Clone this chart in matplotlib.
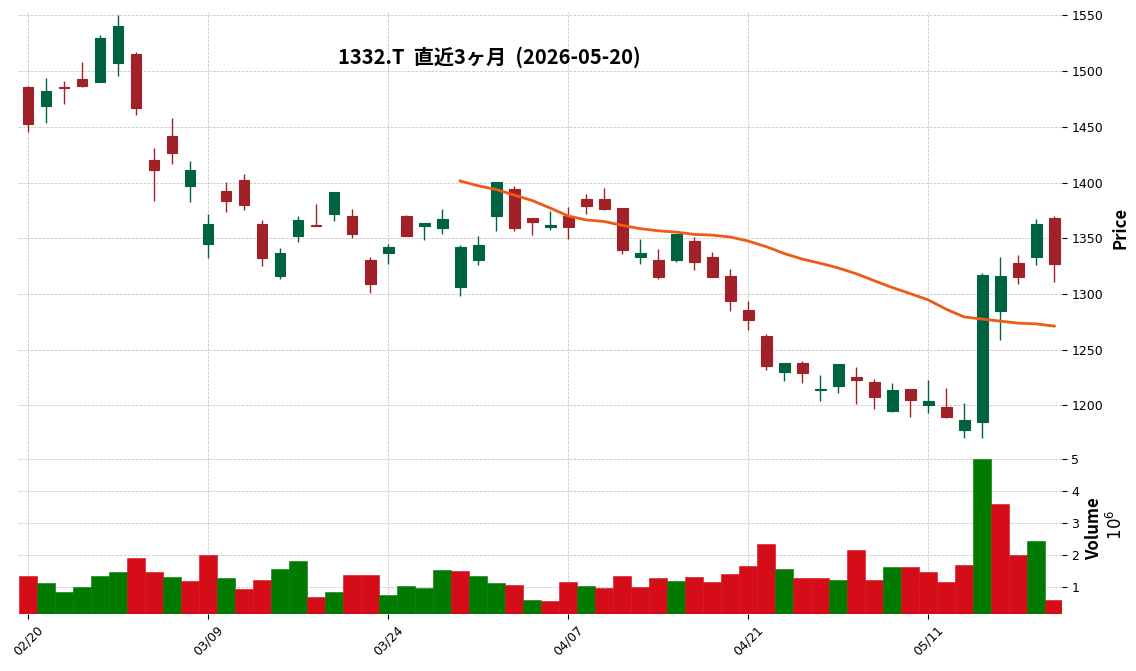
import matplotlib.pyplot as plt
import numpy as np
import pandas as pd

# trading days (TSE holidays removed)
holidays = ["2026-02-23", "2026-03-20", "2026-04-29", "2026-05-04", "2026-05-05", "2026-05-06"]
dates = pd.bdate_range("2026-02-20", "2026-05-20")
dates = dates[~dates.isin(pd.to_datetime(holidays))]

opens = [1485.7, 1468.9, 1485.6, 1492.8, 1490.4, 1507.5, 1515.6, 1420.1, 1441.7, 1397.1,
         1345.1, 1392.2, 1402.1, 1362.7, 1316.1, 1352.2, 1362.0, 1372.2, 1369.9, 1330.4,
         1337.0, 1369.9, 1361.2, 1359.4, 1306.6, 1330.7, 1370.1, 1394.0, 1368.1, 1360.0,
         1370.4, 1385.1, 1385.1, 1377.0, 1333.4, 1330.4, 1330.7, 1347.5, 1333.1, 1316.1,
         1286.0, 1262.8, 1230.1, 1237.8, 1214.0, 1217.6, 1225.9, 1220.8, 1195.2, 1215.0,
         1200.1, 1198.4, 1178.4, 1184.9, 1285.2, 1327.9, 1333.6, 1368.1]
highs = [1486.5, 1494.3, 1491.3, 1508.4, 1532.9, 1550.0, 1516.8, 1431.5, 1458.4, 1419.3,
         1372.2, 1400.9, 1408.1, 1366.9, 1340.9, 1369.6, 1381.2, 1391.5, 1376.7, 1333.4,
         1344.8, 1370.7, 1363.6, 1376.7, 1343.6, 1352.5, 1400.3, 1396.7, 1368.1, 1374.9,
         1378.2, 1389.6, 1395.5, 1377.0, 1349.0, 1340.6, 1354.0, 1351.3, 1337.3, 1322.4,
         1294.0, 1264.3, 1237.8, 1239.6, 1227.4, 1237.0, 1234.8, 1223.8, 1220.2, 1215.0,
         1222.5, 1215.7, 1202.5, 1318.7, 1333.0, 1334.8, 1367.0, 1370.0]
lows = [1445.6, 1453.6, 1470.1, 1486.0, 1490.0, 1496.1, 1461.1, 1383.7, 1416.9, 1382.2,
        1332.0, 1373.4, 1375.8, 1325.1, 1313.1, 1346.3, 1361.0, 1365.4, 1350.7, 1300.6,
        1326.6, 1352.0, 1348.1, 1354.3, 1297.9, 1325.7, 1357.0, 1356.4, 1353.4, 1357.9,
        1349.0, 1372.2, 1375.5, 1335.5, 1326.6, 1313.1, 1328.4, 1321.2, 1315.0, 1284.5,
        1267.3, 1231.5, 1222.3, 1220.5, 1203.9, 1211.6, 1200.9, 1196.7, 1193.8, 1189.6,
        1193.3, 1189.0, 1170.9, 1170.9, 1259.0, 1309.1, 1326.1, 1311.2]
closes = [1452.5, 1482.1, 1485.3, 1486.6, 1529.6, 1540.4, 1466.8, 1411.2, 1426.4, 1411.2,
          1362.7, 1383.6, 1380.0, 1332.5, 1336.7, 1366.3, 1361.5, 1391.3, 1354.0, 1309.3,
          1341.8, 1352.2, 1363.6, 1367.2, 1342.1, 1343.9, 1400.3, 1359.4, 1364.8, 1361.8,
          1360.3, 1379.1, 1376.4, 1339.7, 1336.7, 1315.2, 1354.0, 1329.0, 1315.5, 1294.0,
          1276.5, 1235.4, 1237.8, 1229.2, 1214.5, 1236.9, 1222.9, 1207.7, 1213.7, 1205.0,
          1204.2, 1189.4, 1186.7, 1317.0, 1316.0, 1315.0, 1362.8, 1326.7]
# volume in millions of shares
volumes = [1.35, 1.13, 0.86, 1.01, 1.35, 1.48, 1.91, 1.48, 1.32, 1.20,
           2.00, 1.29, 0.95, 1.23, 1.57, 1.82, 0.70, 0.86, 1.38, 1.38,
           0.76, 1.04, 0.98, 1.54, 1.51, 1.35, 1.13, 1.07, 0.61, 0.58,
           1.17, 1.04, 0.98, 1.35, 1.01, 1.29, 1.20, 1.32, 1.17, 1.41,
           1.66, 2.34, 1.57, 1.29, 1.29, 1.23, 2.16, 1.23, 1.63, 1.63,
           1.48, 1.17, 1.69, 5.00, 3.61, 2.00, 2.44, 0.61]

title = "1332.T  直近3ヶ月  (2026-05-20)"
tick_idx = [0, 10, 20, 30, 40, 50]

df = pd.DataFrame({"Open": opens, "High": highs, "Low": lows, "Close": closes,
                   "Volume": volumes}, index=dates)
df["MA25"] = df["Close"].rolling(25).mean()

UP, DOWN = "#006340", "#a02128"
VUP, VDOWN = "#007a00", "#d50d18"
GRID = dict(color="#c4c4c4", linestyle="--", linewidth=0.55)

x = np.arange(len(df))
o, h, l, c = df["Open"].values, df["High"].values, df["Low"].values, df["Close"].values
cols = [UP if cc >= oo else DOWN for oo, cc in zip(o, c)]
prev = np.r_[o[0], c[:-1]]
vcols = [VUP if cc >= pp else VDOWN for pp, cc in zip(prev, c)]

fig = plt.figure(figsize=(11.36, 6.71), dpi=100)
ax = fig.add_axes([0.0158, 0.3398, 0.9192, 0.6422])
axv = fig.add_axes([0.0158, 0.085, 0.9192, 0.2548], sharex=ax)

# candles
ax.vlines(x, l, h, colors=cols, linewidth=1.0, zorder=2)
ax.bar(x, np.abs(c - o), bottom=np.minimum(o, c), width=0.6, color=cols,
       edgecolor=cols, linewidth=0.8, zorder=3)
ax.plot(x, df["MA25"].values, color="#ee5a18", linewidth=2.0, zorder=4)

# volume
axv.bar(x, df["Volume"].values, width=0.98, color=vcols, edgecolor=vcols,
        linewidth=0.4, zorder=3)

rng = max(h) - min(l)
ax.set_ylim(min(l) - 0.012 * rng, max(h) + 0.008 * rng)
ax.set_yticks(np.arange(1200, 1551, 50))
axv.set_ylim(0.3 * min(volumes), 1.1 * max(volumes))
axv.set_yticks([1, 2, 3, 4, 5])
ax.set_xlim(-0.56, len(df) - 0.56)

for a in (ax, axv):
    for s in a.spines.values():
        s.set_visible(False)
    a.yaxis.tick_right()
    a.yaxis.set_label_position("right")
    a.grid(True, **GRID)
    a.set_axisbelow(True)
    a.tick_params(axis="y", labelsize=9, length=3.5, pad=3)

ax.tick_params(axis="x", which="both", bottom=False, labelbottom=False)
axv.set_xticks(tick_idx)
axv.set_xticklabels([df.index[i].strftime("%m/%d") for i in tick_idx],
                    rotation=45, ha="center", fontsize=9)
axv.tick_params(axis="x", length=3.5)

jp = ["Noto Sans CJK JP", "DejaVu Sans"]
ax.set_ylabel("Price", fontsize=12, fontweight="bold", family=jp, labelpad=6)
axv.set_ylabel("Volume\n  $10^{6}$", fontsize=12, fontweight="bold", family=jp, labelpad=4)

fig.text(0.431, 0.915, title, fontsize=14.5, fontweight="bold", family=jp,
         ha="center", va="center")

fig.savefig("out.png", dpi=100)
